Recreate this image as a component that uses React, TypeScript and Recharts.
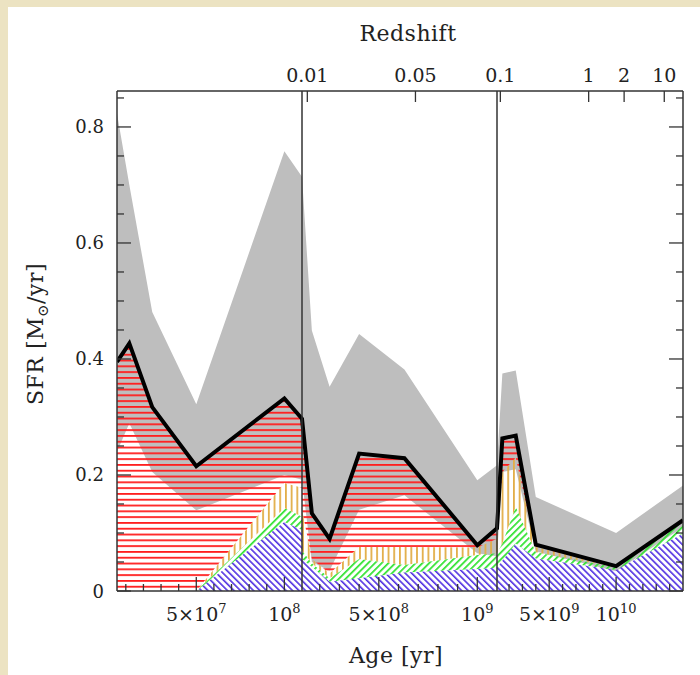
import React from 'react';
import { ComposedChart, Area, Line, XAxis, YAxis, ReferenceLine } from 'recharts';

// ---- data ----
const ages = [5e6, 1.2e7, 2.5e7, 5e7, 1e8, 1.1e8, 1.1e8, 1.6e8, 2.5e8, 4e8, 6.3e8, 1e9, 1.1e9, 1.5e9, 2.5e9, 4e9, 1e10, 1.5e10];
const sfrTotal = [0.395, 0.427, 0.317, 0.215, 0.332, 0.297, 0.297, 0.134, 0.09, 0.237, 0.229, 0.079, 0.108, 0.263, 0.268, 0.08, 0.043, 0.122];
const sfrHigh = [0.823, 0.7, 0.481, 0.322, 0.758, 0.714, 0.714, 0.449, 0.352, 0.443, 0.382, 0.191, 0.217, 0.375, 0.38, 0.162, 0.1, 0.182];
const sfrLow = [0.24, 0.289, 0.205, 0.139, 0.2, 0.192, 0.192, 0.05, 0.035, 0.14, 0.165, 0.065, 0.06, 0.205, 0.21, 0.068, 0.034, 0.11];
const sfrBlue = [0, 0, 0, 0, 0.119, 0.105, 0.055, 0.042, 0.016, 0.022, 0.032, 0.038, 0.04, 0.052, 0.082, 0.056, 0.036, 0.099];
const sfrGreen = [0, 0, 0, 0, 0.024, 0.023, 0.015, 0.006, 0.006, 0.033, 0.013, 0.024, 0.025, 0.03, 0.063, 0.011, 0.005, 0.02];
const sfrYellow = [0, 0, 0, 0, 0.043, 0.05, 0.07, 0.007, 0.008, 0.021, 0.031, 0.013, 0.025, 0.123, 0.085, 0.009, 0.001, 0.002];
const sfrRed = [0.395, 0.427, 0.317, 0.215, 0.146, 0.119, 0.157, 0.079, 0.06, 0.161, 0.153, 0.004, 0.018, 0.058, 0.038, 0.004, 0.001, 0.001];

// broken age axis: three linear panels
const panelFrom = [5e6, 1.1e8, 1.1e9];
const panelTo = [1.1e8, 1.1e9, 1.5e10];
const panelSpan = [185, 195, 186];

const ageMajorTicks = [5e7, 1e8, 5e8, 1e9, 5e9, 1e10];
const ageMajorMantissa = ['5', '', '5', '', '5', ''];
const ageMajorExponent = ['7', '8', '8', '9', '9', '10'];
const ageMinorTicks = [1e7, 2e7, 3e7, 4e7, 6e7, 7e7, 8e7, 9e7, 2e8, 3e8, 4e8, 6e8, 7e8, 8e8, 9e8, 2e9, 3e9, 4e9, 6e9, 7e9, 8e9, 9e9, 1.1e10, 1.2e10, 1.3e10, 1.4e10];

const redshiftAges = [1.37e8, 6.86e8, 1.35e9, 7.95e9, 1.06e10, 1.36e10];
const redshiftLabels = ['0.01', '0.05', '0.1', '1', '2', '10'];

const sfrMajorTicks = [0, 0.2, 0.4, 0.6, 0.8];
const sfrTickLabels = ['0', '0.2', '0.4', '0.6', '0.8'];
const sfrMinorTicks = [0.05, 0.1, 0.15, 0.25, 0.3, 0.35, 0.45, 0.5, 0.55, 0.65, 0.7, 0.75, 0.85];

// ---- helpers ----
const totalSpan = panelSpan.reduce((a, b) => a + b, 0);
function ageToAxis(age: number): number {
  let offset = 0;
  for (let i = 0; i < panelFrom.length; i++) {
    if (age <= panelTo[i] || i === panelFrom.length - 1) {
      return offset + ((age - panelFrom[i]) / (panelTo[i] - panelFrom[i])) * panelSpan[i];
    }
    offset += panelSpan[i];
  }
  return offset;
}

const data = ages.map((a, i) => ({
  pos: ageToAxis(a),
  band: [sfrLow[i], sfrHigh[i]],
  blue: sfrBlue[i],
  green: sfrGreen[i],
  yellow: sfrYellow[i],
  red: sfrRed[i],
  total: sfrTotal[i],
}));

const majorPos = ageMajorTicks.map(ageToAxis);
const minorPos = ageMinorTicks.map(ageToAxis);
const zPos = redshiftAges.map(ageToAxis);
const dividers = panelTo.slice(0, -1).map(ageToAxis);

const FONT = '"DejaVu Serif", serif';
const AXIS = '#333';
const TXT = '#222';

const near = (arr: number[], v: number) => arr.findIndex((p) => Math.abs(p - v) < 1e-6);

const BottomTick = (props: any) => {
  const { x, y, payload } = props;
  const mi = near(majorPos, payload.value);
  const len = mi >= 0 ? 14 : 7;
  return (
    <g>
      <line x1={x} y1={y} x2={x} y2={y - len} stroke={AXIS} strokeWidth={1.3} />
      {mi >= 0 && (
        <text x={x} y={y + 30} textAnchor="middle" fontSize={19} fontFamily={FONT} fill={TXT}>
          {ageMajorMantissa[mi] ? ageMajorMantissa[mi] + '×' : ''}10
          <tspan dy={-8} fontSize={13}>{ageMajorExponent[mi]}</tspan>
        </text>
      )}
    </g>
  );
};

const TopTick = (props: any) => {
  const { x, y, payload } = props;
  const zi = near(zPos, payload.value);
  return (
    <g>
      <line x1={x} y1={y} x2={x} y2={y + 11} stroke={AXIS} strokeWidth={1.3} />
      {zi >= 0 && (
        <text x={x} y={y - 9} textAnchor="middle" fontSize={19} fontFamily={FONT} fill={TXT}>
          {redshiftLabels[zi]}
        </text>
      )}
    </g>
  );
};

const LeftTick = (props: any) => {
  const { x, y, payload } = props;
  const mi = near(sfrMajorTicks, payload.value);
  const len = mi >= 0 ? 14 : 7;
  return (
    <g>
      <line x1={x} y1={y} x2={x + len} y2={y} stroke={AXIS} strokeWidth={1.3} />
      {mi >= 0 && (
        <text x={x - 13} y={y + 6.5} textAnchor="end" fontSize={18} fontFamily={FONT} fill={TXT}>
          {sfrTickLabels[mi]}
        </text>
      )}
    </g>
  );
};

const RightTick = (props: any) => {
  const { x, y, payload } = props;
  const mi = near(sfrMajorTicks, payload.value);
  const len = mi >= 0 ? 14 : 7;
  return <line x1={x} y1={y} x2={x - len} y2={y} stroke={AXIS} strokeWidth={1.3} />;
};

export default function App() {
  const W = 700;
  const H = 675;
  const yDomain: [number, number] = [0, 0.862];
  return (
    <div style={{ position: 'absolute', left: 0, top: 0, width: W, height: H, background: '#ece3c2', overflow: 'hidden' }}>
      <div style={{ position: 'absolute', left: 8, top: 7, width: W - 8, height: H - 7, background: '#ffffff' }} />
      <svg width={0} height={0} style={{ position: 'absolute' }}>
        <defs>
          <pattern id="hatchRed" width={8} height={5.8} patternUnits="userSpaceOnUse">
            <rect x={0} y={0} width={8} height={1.8} fill="#ff1e1e" />
          </pattern>
          <pattern id="hatchYellow" width={5.7} height={8} patternUnits="userSpaceOnUse">
            <rect x={0} y={0} width={1.8} height={8} fill="#e2ae48" />
          </pattern>
          <pattern id="hatchGreen" width={4.8} height={8} patternUnits="userSpaceOnUse" patternTransform="rotate(45)">
            <rect x={0} y={0} width={1.7} height={8} fill="#2ee22e" />
          </pattern>
          <pattern id="hatchBlue" width={4.6} height={8} patternUnits="userSpaceOnUse" patternTransform="rotate(-45)">
            <rect x={0} y={0} width={1.6} height={8} fill="#4f2fe2" />
          </pattern>
        </defs>
      </svg>
      <div style={{ position: 'absolute', left: 0, top: 0 }}>
        <ComposedChart width={W} height={H} data={data} margin={{ top: 0, right: 0, bottom: 0, left: 0 }}>
          <XAxis
            dataKey="pos"
            type="number"
            domain={[0, totalSpan]}
            allowDataOverflow
            ticks={[...majorPos, ...minorPos]}
            interval={0}
            tick={BottomTick}
            tickLine={false}
            tickSize={0}
            tickMargin={0}
            height={84}
            axisLine={{ stroke: AXIS, strokeWidth: 1.5 }}
          />
          <XAxis
            xAxisId="top"
            dataKey="pos"
            orientation="top"
            type="number"
            domain={[0, totalSpan]}
            allowDataOverflow
            ticks={zPos}
            interval={0}
            tick={TopTick}
            tickLine={false}
            tickSize={0}
            tickMargin={0}
            height={91}
            axisLine={{ stroke: AXIS, strokeWidth: 1.5 }}
          />
          <YAxis
            type="number"
            domain={yDomain}
            allowDataOverflow
            ticks={[...sfrMajorTicks, ...sfrMinorTicks]}
            interval={0}
            tick={LeftTick}
            tickLine={false}
            tickSize={0}
            tickMargin={0}
            width={117}
            axisLine={{ stroke: AXIS, strokeWidth: 1.5 }}
          />
          <YAxis
            yAxisId="right"
            orientation="right"
            type="number"
            domain={yDomain}
            allowDataOverflow
            ticks={[...sfrMajorTicks, ...sfrMinorTicks]}
            interval={0}
            tick={RightTick}
            tickLine={false}
            tickSize={0}
            tickMargin={0}
            width={17}
            axisLine={{ stroke: AXIS, strokeWidth: 1.5 }}
          />
          <Area dataKey="band" type="linear" stroke="none" fill="#bebebe" fillOpacity={1} isAnimationActive={false} />
          <Area dataKey="blue" stackId="sfr" type="linear" stroke="none" fill="url(#hatchBlue)" fillOpacity={1} isAnimationActive={false} />
          <Area dataKey="green" stackId="sfr" type="linear" stroke="none" fill="url(#hatchGreen)" fillOpacity={1} isAnimationActive={false} />
          <Area dataKey="yellow" stackId="sfr" type="linear" stroke="none" fill="url(#hatchYellow)" fillOpacity={1} isAnimationActive={false} />
          <Area dataKey="red" stackId="sfr" type="linear" stroke="none" fill="url(#hatchRed)" fillOpacity={1} isAnimationActive={false} />
          <Line dataKey="total" type="linear" stroke="#000" strokeWidth={4} strokeLinejoin="miter" dot={false} activeDot={false} isAnimationActive={false} />
          <Line
            dataKey="total"
            xAxisId="top"
            yAxisId="right"
            type="linear"
            stroke="none"
            strokeWidth={0}
            dot={false}
            activeDot={false}
            legendType="none"
            isAnimationActive={false}
          />
          {dividers.map((d) => (
            <ReferenceLine key={d} x={d} stroke={AXIS} strokeWidth={1.5} />
          ))}
        </ComposedChart>
      </div>
      <svg width={W} height={H} style={{ position: 'absolute', left: 0, top: 0, pointerEvents: 'none' }}>
        <text x={408} y={41} textAnchor="middle" fontSize={22} letterSpacing={0.5} fontFamily={FONT} fill={TXT}>Redshift</text>
        <text x={396} y={663} textAnchor="middle" fontSize={22} letterSpacing={0.5} fontFamily={FONT} fill={TXT}>Age [yr]</text>
        <text transform="translate(43 334) rotate(-90)" textAnchor="middle" fontSize={22} letterSpacing={0.5} fontFamily={FONT} fill={TXT}>
          SFR [M<tspan dy={5} fontSize={15}>⊙</tspan><tspan dy={-5}>/yr]</tspan>
        </text>
      </svg>
    </div>
  );
}
